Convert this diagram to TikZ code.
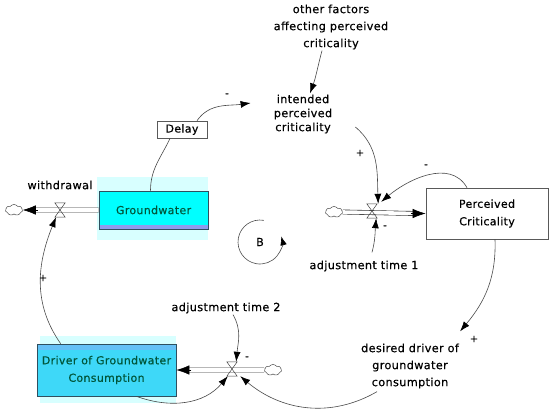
\documentclass[tikz,border=0pt]{standalone}
\usepackage{fontspec}
\setmainfont{DejaVu Sans}[LetterSpace=3,FakeBold=0.4]
\usetikzlibrary{arrows.meta,shapes.symbols,calc}
\definecolor{conn}{HTML}{484848}
\definecolor{gwfill}{HTML}{00FFFF}
\definecolor{gwband}{HTML}{8C9CEC}
\definecolor{drvfill}{HTML}{3ED8F8}
\definecolor{drvband}{HTML}{66C0F6}
\definecolor{halo}{HTML}{D8FFFF}
\definecolor{boxtext}{HTML}{00563A}
\definecolor{boxedge}{HTML}{2F4F5F}
\tikzset{
  lbl/.style={font=\fontsize{11.3}{17}\selectfont, align=center, inner sep=1pt},
  stockbox/.style={draw=boxedge, line width=0.7pt, font=\fontsize{11}{17.5}\selectfont, text=boxtext, align=center, inner sep=0pt},
  plainbox/.style={draw=black!65, line width=0.7pt, fill=white, font=\fontsize{11}{17.5}\selectfont, align=center, inner sep=0pt},
  link/.style={draw=conn, line width=0.6pt, -{Latex[length=10pt,width=7pt,color=black]}},
  pipe/.style={draw=black!80, line width=0.6pt, double=white, double distance=3.6pt},
  flowtip/.style={draw=black, line width=0.6pt, -{Latex[length=13pt,width=9.5pt]}},
  cloudy/.style={cloud, cloud puffs=7, cloud puff arc=110, draw=black!70, line width=0.5pt, fill=white, minimum width=17pt, minimum height=11pt, inner sep=0pt, aspect=1.6},
  valvebox/.style={minimum width=10pt, minimum height=14pt, inner sep=0pt},
  valveline/.style={draw=black!75, line width=0.5pt},
  sign/.style={font=\fontsize{10}{10}\selectfont, inner sep=0pt}
}
\begin{document}
\begin{tikzpicture}[x=1pt,y=1pt]
\useasboundingbox (0,0) rectangle (550,-416);
% halos
\fill[halo] (97,-177) rectangle (208,-240);
\fill[halo] (40,-336) rectangle (176,-403);
% stocks
\node[stockbox, fill=gwfill, minimum width=109pt, minimum height=38pt,
  path picture={\fill[gwband] (path picture bounding box.south west) rectangle ([yshift=4pt]path picture bounding box.south east);}]
  (gw) at (153.5,-210) {Groundwater};
\node[stockbox, fill=drvfill, minimum width=139pt, minimum height=52pt,
  path picture={\fill[drvband] (path picture bounding box.north west) rectangle ([yshift=-6pt]path picture bounding box.north east);}]
  (drv) at (106.5,-370) {Driver of Groundwater\\Consumption};
\node[plainbox, minimum width=122pt, minimum height=51pt] (pc) at (487,-213.5) {Perceived\\Criticality};
\node[plainbox, minimum width=50pt, minimum height=17pt] (delay) at (182,-129.5) {Delay};
% labels
\node[lbl] (wd) at (60,-185) {withdrawal};
\node[lbl] (other) at (331,-27) {other factors\\affecting perceived\\criticality};
\node[lbl, font=\fontsize{11.3}{14}\selectfont] (int) at (303,-114) {intended\\perceived\\criticality};
\node[lbl] (adj1) at (364,-266) {adjustment time 1};
\node[lbl] (adj2) at (226,-308) {adjustment time 2};
\node[lbl] (des) at (410,-366) {desired driver of\\groundwater\\consumption};
\node[lbl, font=\fontsize{11}{12}\selectfont] (B) at (260,-242) {B};
% clouds
\node[cloudy] (c1) at (14,-210) {};
\node[cloudy] (c2) at (334,-212) {};
\node[cloudy] (c3) at (273,-370) {};
% valves
\node[valvebox] (v1) at (60,-210) {};
\node[valvebox] (v2) at (372,-211) {};
\node[valvebox] (v3) at (232,-369) {};
% pipes
\draw[pipe] (gw.west) -- ([xshift=10pt]c1.east);
\draw[flowtip] ([xshift=15pt]c1.east) -- (c1.east);
\draw[pipe] (c2.east) -- ([xshift=-10pt]pc.west);
\draw[flowtip] ([xshift=-15pt]pc.west) -- (pc.west);
\draw[pipe] (c3.west) -- ([xshift=10pt]drv.east);
\draw[flowtip] ([xshift=15pt]drv.east) -- (drv.east);
% valve shapes
\foreach \v in {v1,v2,v3}{
  \draw[valveline] (\v.north west) -- (\v.north east) -- (\v.south west) -- (\v.south east) -- cycle;
}
% delay chain
\draw[draw=conn, line width=0.6pt] ([xshift=-3pt]gw.north) to[out=90,in=245] ([xshift=-12pt]delay.south);
\draw[link] ([xshift=15pt]delay.north) to[out=55,in=188] ([shift={(-22pt,11pt)}]int.west);
\node[sign] at (227,-95) {-};
% other -> intended
\draw[link] ([xshift=-9pt]other.south) to[out=-105,in=70] ([xshift=7pt]int.north);
% intended -> v2
\draw[link] ([shift={(22pt,-13pt)}]int.east) to[out=-40,in=92] ([xshift=1pt]v2.north east);
\node[sign] at (360,-153) {+};
% pc -> v2
\draw[link] ([xshift=-20pt]pc.north) to[out=120,in=40] ([shift={(4pt,2pt)}]v2.north east);
\node[sign] at (426,-166) {-};
% adj1 -> v2
\draw[link] ([shift={(8pt,7pt)}]adj1.north) to[out=75,in=-95] ([xshift=-1pt]v2.south east);
\node[sign] at (385,-227) {-};
% pc -> desired
\draw[link] ([xshift=8pt]pc.south) to[out=-88,in=50] ([shift={(0pt,11pt)}]des.north east);
\node[sign] at (474,-339) {+};
% desired -> v3
\draw[link] ([shift={(-33pt,-2pt)}]des.south) to[out=-150,in=-40] ([xshift=3pt]v3.south east);
% driver -> v3
\draw[link] ([xshift=30pt]drv.south) to[out=-20,in=-130] ([xshift=1pt]v3.south west);
% adj2 -> v3
\draw[link] ([xshift=7pt]adj2.south) to[out=-60,in=85] ([xshift=-1pt]v3.north east);
\node[sign] at (247,-358) {-};
% driver -> v1
\draw[link] ([xshift=24pt]drv.north west) to[out=125,in=-112] ([xshift=-4pt]v1.south);
\node[sign] at (43,-278) {+};
% loop B
\draw[draw=black!70, line width=0.6pt, -{Latex[length=9pt,width=6.5pt,color=black]}] ($(B)+(80:22)$) arc[start angle=80, end angle=375, radius=22];
\end{tikzpicture}
\end{document}
